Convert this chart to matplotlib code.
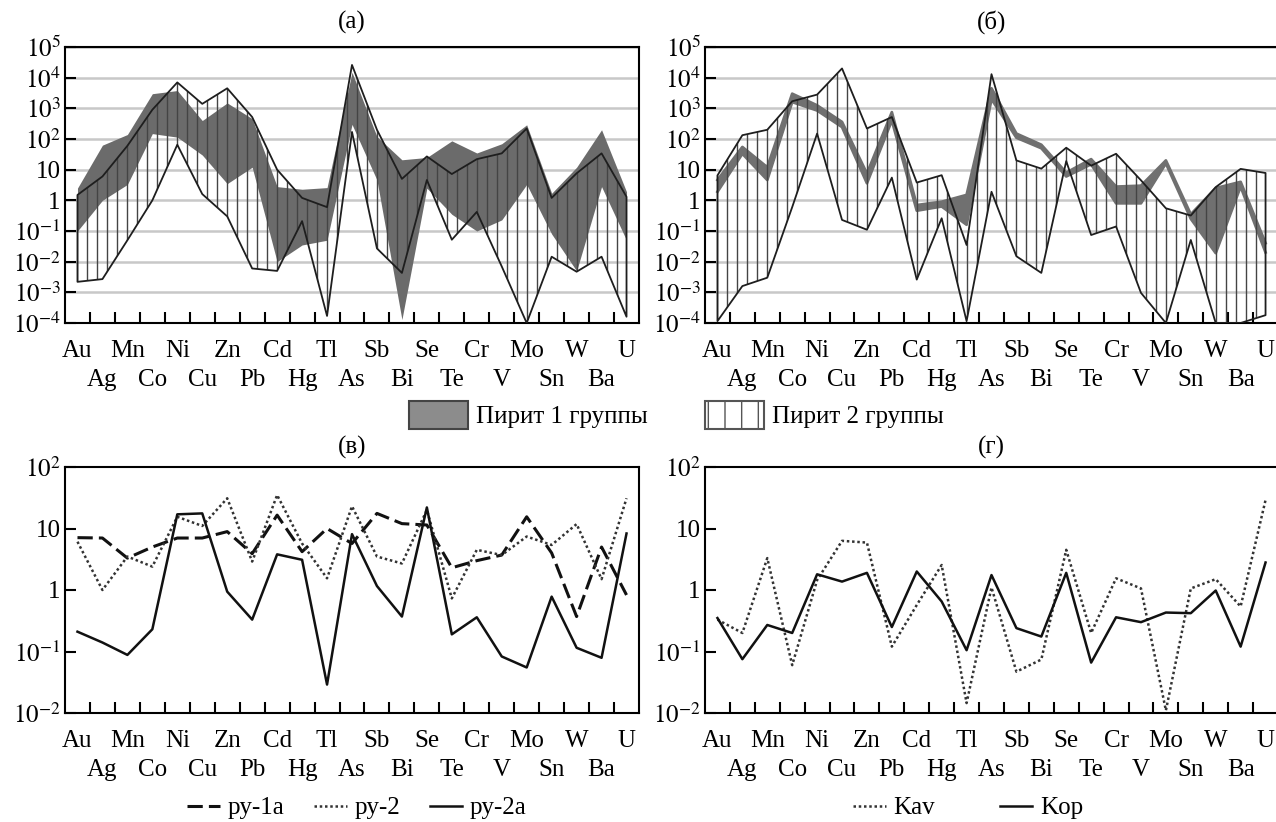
import numpy as np
import matplotlib.pyplot as plt
from matplotlib.patches import Patch
from matplotlib.lines import Line2D
from matplotlib.ticker import NullLocator

plt.rcParams['font.family'] = ['Liberation Serif', 'DejaVu Serif']
plt.rcParams['mathtext.fontset'] = 'stix'

# элементы по оси X
elements = ['Au', 'Ag', 'Mn', 'Co', 'Ni', 'Cu', 'Zn', 'Pb', 'Cd', 'Hg', 'Tl', 'As',
            'Sb', 'Bi', 'Se', 'Te', 'Cr', 'V', 'Mo', 'Sn', 'W', 'Ba', 'U']

# (а) пирит 1 группы (серая область) и пирит 2 группы (штриховка)
a_py1_max = [2.5, 63, 140, 3000, 3800, 400, 1500, 460, 2.8, 2.3, 2.6, 15000,
             120, 21, 25, 87, 35, 70, 290, 1.7, 12, 200, 1.9]
a_py1_min = [0.1, 1.0, 3.3, 150, 115, 30, 3.5, 12, 0.01, 0.035, 0.05, 300,
             4.6, 0.00013, 2.5, 0.35, 0.1, 0.23, 3.3, 0.08, 0.005, 2.8, 0.05]
a_py2_max = [1.5, 6, 60, 900, 7000, 1400, 4500, 520, 10, 1.2, 0.6, 26000,
             200, 5, 27, 7.2, 22, 34, 220, 1.2, 7.6, 34, 1.3]
a_py2_min = [0.0022, 0.0027, 0.05, 1.0, 65, 1.6, 0.3, 0.006, 0.005, 0.21, 0.00017, 170,
             0.027, 0.0043, 4.6, 0.052, 0.42, 0.007, 0.0001, 0.0145, 0.0047, 0.0145, 0.00016]

# (б)
b_py1_max = [4.6, 55, 12, 3000, 1250, 360, 7.5, 750, 0.7, 0.9, 1.5, 4500,
             150, 65, 8, 22, 2.8, 3.0, 20, 0.35, 2.5, 4, 0.04]
b_py1_min = [1.9, 33, 4.6, 1600, 850, 245, 3.6, 400, 0.46, 0.63, 0.16, 2000,
             110, 50, 6, 15, 0.8, 0.8, 16, 0.25, 0.019, 2.8, 0.02]
b_py2_max = [6.5, 133, 200, 1700, 2800, 20000, 220, 520, 3.8, 6.6, 0.035, 13000,
             20, 10.8, 52, 13.5, 33, 4.5, 0.55, 0.32, 2.7, 10.6, 7.8]
b_py2_min = [0.000115, 0.0016, 0.003, 0.6, 150, 0.23, 0.11, 5.5, 0.0026, 0.26, 0.000115, 1.9,
             0.015, 0.0043, 19, 0.074, 0.14, 0.00096, 0.0001, 0.051, 0.0001, 0.0001, 0.00018]

# (в)
v_py1a = [7.1, 7.0, 3.3, 5.0, 7.0, 7.0, 8.9, 3.9, 16.5, 4.2, 10, 5.7,
          17.6, 12, 11.4, 2.3, 3.0, 3.7, 15.5, 4.0, 0.37, 5.0, 0.83]
v_py2 = [6.1, 1.0, 3.5, 2.4, 15.5, 11, 31, 2.9, 35, 5.7, 1.55, 23,
         3.5, 2.7, 20, 0.73, 4.5, 3.7, 7.4, 5.4, 11.8, 1.5, 31]
v_py2a = [0.21, 0.14, 0.088, 0.23, 17, 17.6, 0.94, 0.33, 3.8, 3.1, 0.029, 8.1,
          1.16, 0.37, 22, 0.19, 0.36, 0.083, 0.055, 0.78, 0.115, 0.079, 8.3]

# (г)
g_kav = [0.33, 0.2, 3.3, 0.06, 1.45, 6.3, 5.9, 0.12, 0.57, 2.55, 0.0145, 1.1,
         0.047, 0.074, 4.5, 0.2, 1.55, 1.06, 0.011, 1.06, 1.5, 0.54, 29]
g_kop = [0.35, 0.075, 0.27, 0.2, 1.8, 1.37, 1.9, 0.25, 2.0, 0.65, 0.105, 1.75,
         0.24, 0.175, 1.9, 0.066, 0.36, 0.3, 0.43, 0.42, 0.98, 0.12, 2.8]

W, H = 1276, 822
FS = 18
fig = plt.figure(figsize=(W / 100, H / 100), dpi=100)
n = len(elements)
x = np.arange(n) + 0.5


def px_axes(x0, x1, ytop, ybot):
    return fig.add_axes([x0 / W, 1 - ybot / H, (x1 - x0) / W, (ybot - ytop) / H])


def ylab(e):
    if e == 0:
        return '1'
    if e == 1:
        return '10'
    return r'$10^{%d}$' % e


def setup(ax, lo, hi, title, grid, tpad):
    ax.set_yscale('log')
    ax.set_ylim(10.0 ** lo, 10.0 ** hi)
    ax.set_xlim(0, n)
    exps = list(range(lo, hi + 1))
    ax.set_yticks([10.0 ** e for e in exps])
    ax.set_yticklabels([ylab(e) for e in exps])
    ax.yaxis.set_minor_locator(NullLocator())
    # засечки на границах категорий
    ax.set_xticks(np.arange(1, n))
    ax.set_xticklabels([])
    # первый ряд подписей
    ax.set_xticks(x[::2], minor=True)
    ax.set_xticklabels(elements[::2], minor=True)
    ax.tick_params(axis='both', which='major', direction='in', length=8, width=1.5,
                   labelsize=FS, pad=3)
    ax.tick_params(axis='x', which='minor', length=0, labelsize=FS, pad=12)
    # второй ряд подписей
    sec = ax.secondary_xaxis('bottom')
    sec.set_xticks(x[1::2])
    sec.set_xticklabels(elements[1::2])
    sec.tick_params(axis='x', length=0, labelsize=FS, pad=33)
    sec.spines['bottom'].set_visible(False)
    for s in ax.spines.values():
        s.set_linewidth(1.5)
    if grid:
        ax.set_axisbelow(True)
        ax.grid(axis='y', color='#c8c8c8', lw=1.8)
    ax.set_title(title, fontsize=FS, pad=tpad)


def hatched(ax, lo, hi, ymin, ymax):
    poly = ax.fill_between(x, lo, hi, facecolor='none', edgecolor='#1e1e1e', lw=1.3, zorder=4)
    hx = np.arange(0.5, n, 0.4)
    vl = ax.vlines(hx, ymin, ymax, color='#444444', lw=1.0, zorder=3)
    vl.set_clip_path(poly.get_paths()[0], ax.transData)


# (а)
ax1 = px_axes(65, 639, 47, 323)
setup(ax1, -4, 5, '(а)', True, 13)
ax1.fill_between(x, a_py1_min, a_py1_max, color='#6b6b6b', lw=0, zorder=2)
hatched(ax1, a_py2_min, a_py2_max, 1e-4, 1e5)

# (б)
ax2 = px_axes(705, 1278, 47, 323)
setup(ax2, -4, 5, '(б)', True, 13)
ax2.fill_between(x, b_py1_min, b_py1_max, color='#707070', lw=0, zorder=2)
ax2.plot(x, b_py1_min, color='#707070', lw=2, zorder=2)
ax2.plot(x, b_py1_max, color='#707070', lw=2, zorder=2)
hatched(ax2, b_py2_min, b_py2_max, 1e-4, 1e5)

leg_kw = dict(loc='center left', frameon=False, fontsize=FS, handlelength=2.36,
              handleheight=1.4, handletextpad=0.3, borderpad=0, borderaxespad=0)
fig.legend(handles=[Patch(facecolor='#8c8c8c', edgecolor='#444444', lw=1.5)],
           labels=['Пирит 1 группы'], bbox_to_anchor=(409 / W, 1 - 415 / H), **leg_kw)
fig.legend(handles=[Patch(facecolor='white', edgecolor='#555555', hatch='|', lw=1.5)],
           labels=['Пирит 2 группы'], bbox_to_anchor=(705 / W, 1 - 415 / H), **leg_kw)

# (в)
ax3 = px_axes(65, 639, 467, 713)
setup(ax3, -2, 2, '(в)', False, 10)
ax3.plot(x, v_py1a, color='#111111', lw=2.2, ls=(0, (5, 2)))
ax3.plot(x, v_py2, color='#333333', lw=1.8, ls=(0, (1, 1.1)))
ax3.plot(x, v_py2a, color='#111111', lw=1.8)
fig.legend(handles=[Line2D([], [], color='#111111', lw=2.2, ls=(0, (5, 2))),
                    Line2D([], [], color='#333333', lw=1.8, ls=(0, (1, 1.1))),
                    Line2D([], [], color='#111111', lw=1.8)],
           labels=['py-1a', 'py-2', 'py-2a'], loc='center',
           bbox_to_anchor=(357 / W, 1 - 808 / H), ncol=3, frameon=False, fontsize=FS,
           handlelength=1.3, handletextpad=0.3, columnspacing=1.2)

# (г)
ax4 = px_axes(705, 1278, 467, 713)
setup(ax4, -2, 2, '(г)', False, 10)
ax4.plot(x, g_kav, color='#333333', lw=1.8, ls=(0, (1, 1.1)))
ax4.plot(x, g_kop, color='#111111', lw=1.8)
fig.legend(handles=[Line2D([], [], color='#333333', lw=1.8, ls=(0, (1, 1.1))),
                    Line2D([], [], color='#111111', lw=1.8)],
           labels=['Kav', 'Kop'], loc='center',
           bbox_to_anchor=(968 / W, 1 - 808 / H), ncol=2, frameon=False, fontsize=FS,
           handlelength=1.3, handletextpad=0.3, columnspacing=2.6)

fig.savefig('out.png', dpi=100)
